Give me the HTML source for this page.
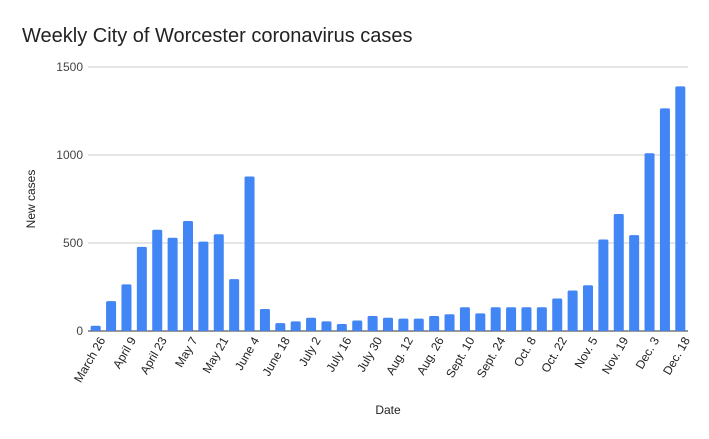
<!DOCTYPE html>
<html><head><meta charset="utf-8"><style>
body{margin:0;background:#fff;font-family:"Liberation Sans",sans-serif}
svg{display:block}
</style></head><body>
<svg id="chart" width="709" height="439">
<rect width="709" height="439" fill="#fff"/>
<text x="22" y="42" font-size="20" fill="#222">Weekly City of Worcester coronavirus cases</text>
<text transform="translate(35,199) rotate(-90)" text-anchor="middle" font-size="12" fill="#222">New cases</text>
<text x="388" y="414" text-anchor="middle" font-size="12" fill="#222">Date</text>
<g id="grid"></g><g id="bars"></g><g id="xl"></g>
</svg>
<script>
const categories=["March 26","","April 9","","April 23","","May 7","","May 21","","June 4","","June 18","","July 2","","July 16","","July 30","","Aug. 12","","Aug. 26","","Sept. 10","","Sept. 24","","Oct. 8","","Oct. 22","","Nov. 5","","Nov. 19","","Dec. 3","","Dec. 18"];
const cases=[30,170,265,478,575,530,625,508,550,295,878,125,45,55,75,55,40,60,85,75,70,70,85,95,135,100,135,135,135,135,185,230,260,520,665,545,1010,1265,1390];
const yTicks=[0,500,1000,1500];
const NS="http://www.w3.org/2000/svg";
const x0=88,x1=688,yb=331,yt=67,ymax=1500;
const band=(x1-x0)/cases.length;
const y=v=>yb-(v/ymax)*(yb-yt);
const xc=i=>x0+band*(i+0.5);
const g=document.getElementById('grid'),b=document.getElementById('bars'),xl=document.getElementById('xl');
yTicks.forEach(t=>{
 const l=document.createElementNS(NS,'line');
 
 
 l.setAttribute('x1',x0);l.setAttribute('x2',x1);l.setAttribute('y1',y(t));l.setAttribute('y2',y(t));
 l.setAttribute('stroke',t===0?'#333':'#ccc');l.setAttribute('stroke-width','1');
 g.appendChild(l);
 const tx=document.createElementNS(NS,'text');
 
 
 tx.setAttribute('x',x0-5);tx.setAttribute('y',y(t)+4);tx.setAttribute('text-anchor','end');
 tx.setAttribute('font-size','12');tx.setAttribute('fill','#444');tx.textContent=t;
 g.appendChild(tx);
});
cases.forEach((v,i)=>{
 const r=document.createElementNS(NS,'rect');
 
 
 const w=10;
 r.setAttribute('x',xc(i)-w/2);r.setAttribute('y',y(v));r.setAttribute('width',w);r.setAttribute('height',yb-y(v));
 r.setAttribute('fill','#4285f4');r.setAttribute('rx','1.5');
 b.appendChild(r);
 if(categories[i]){
  const t=document.createElementNS(NS,'text');
  
  
  const tx=xc(i)+10,ty=yb+9;
  t.setAttribute('transform','translate('+tx+','+ty+') rotate(-60)');
  t.setAttribute('text-anchor','end');t.setAttribute('font-size','12');t.setAttribute('fill','#222');
  t.textContent=categories[i];xl.appendChild(t);
 }
});
</script>
</body></html>
